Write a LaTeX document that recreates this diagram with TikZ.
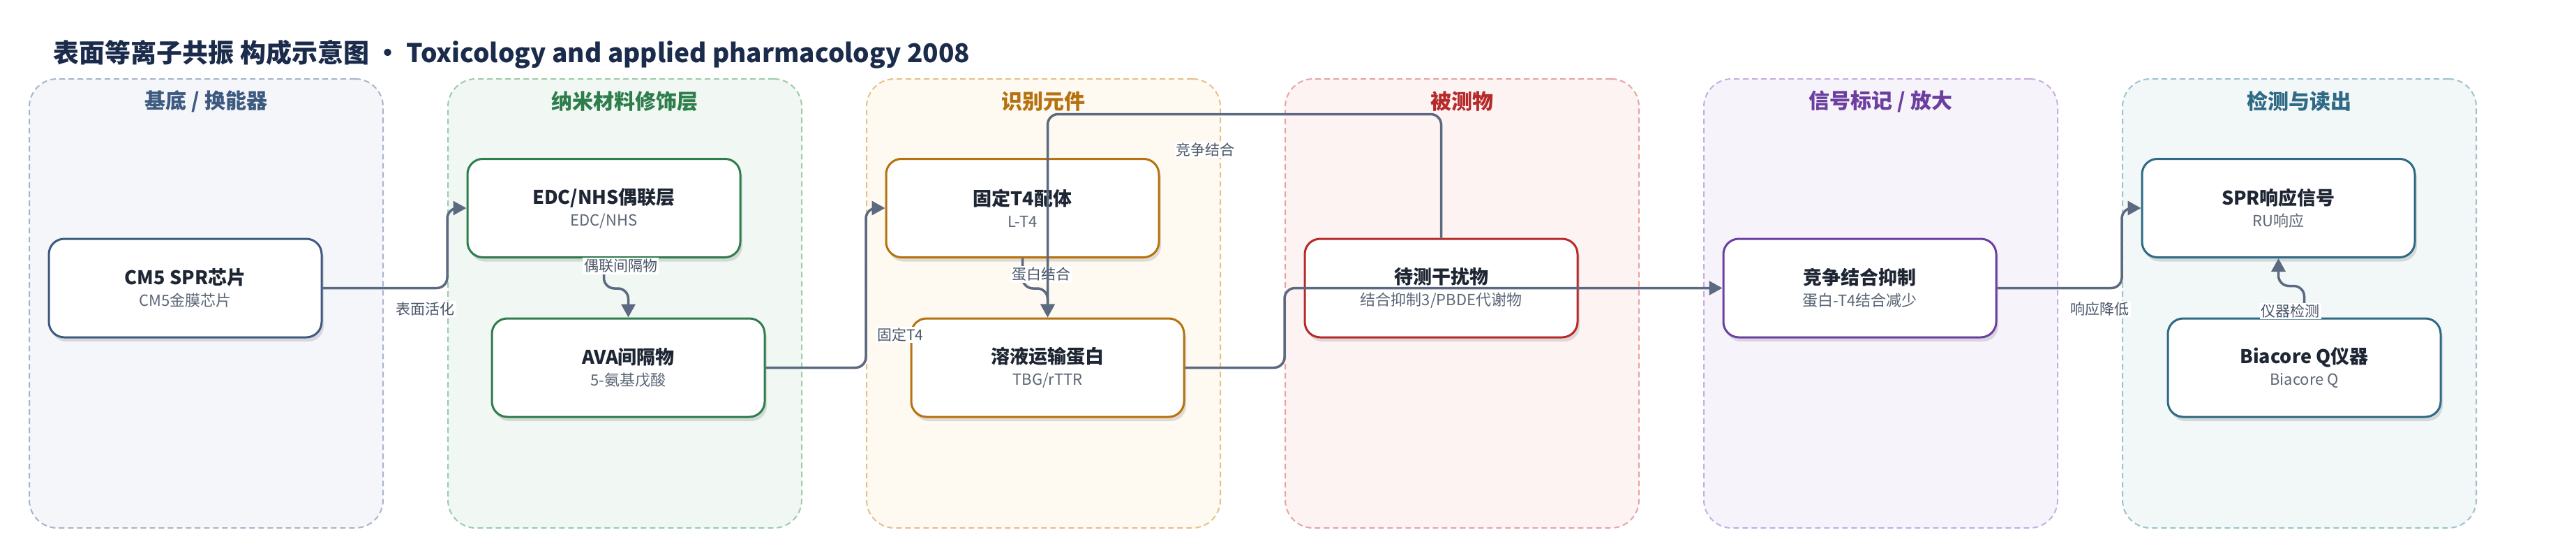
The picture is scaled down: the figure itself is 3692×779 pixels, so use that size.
\documentclass[tikz,border=0pt]{standalone}
\usepackage{fontspec}
\setmainfont{Noto Sans CJK SC}
\usepackage{tikz}
\usetikzlibrary{arrows.meta, calc, shadows}

\definecolor{titlec}{HTML}{1B2B4B}
\definecolor{edgec}{HTML}{5B6A80}
\definecolor{maintxt}{HTML}{1E2633}
\definecolor{subtxt}{HTML}{5B6676}
\definecolor{notetxt}{HTML}{4A5568}
\definecolor{lnA}{HTML}{A8B5C9}\definecolor{bgA}{HTML}{F4F6FA}\definecolor{cA}{HTML}{3E5A80}
\definecolor{lnB}{HTML}{9CCBAA}\definecolor{bgB}{HTML}{F1F8F3}\definecolor{cB}{HTML}{2E7D4C}
\definecolor{lnC}{HTML}{E5C089}\definecolor{bgC}{HTML}{FEF9F1}\definecolor{cC}{HTML}{B5720E}
\definecolor{lnD}{HTML}{E8A3A3}\definecolor{bgD}{HTML}{FDF3F3}\definecolor{cD}{HTML}{B72A2A}
\definecolor{lnE}{HTML}{C6AEE0}\definecolor{bgE}{HTML}{F7F3FB}\definecolor{cE}{HTML}{6B3FA0}
\definecolor{lnF}{HTML}{9FC2CD}\definecolor{bgF}{HTML}{F2F7F8}\definecolor{cF}{HTML}{2E6A85}

\newcommand{\boxtxt}[2]{{\fontsize{27}{31}\selectfont\bfseries #1}\\{\fontsize{22}{31}\selectfont\color{subtxt}#2}}

\begin{document}
\begin{tikzpicture}[x=1pt, y=-1pt,
  lane/.style 2 args={draw=#1, fill=#2, dash pattern=on 8pt off 5pt, line width=2pt,
    rounded corners=40pt, minimum width=507pt, minimum height=643pt},
  lanehead/.style={font=\fontsize{30}{30}\selectfont\bfseries, text=#1},
  stage/.style={draw=#1, fill=white, line width=3pt, rounded corners=22pt,
    minimum width=391pt, minimum height=141pt, align=center, text=maintxt,
    font=\fontsize{27}{31}\selectfont,
    drop shadow={shadow xshift=3pt, shadow yshift=-6pt, opacity=.12, fill=black}},
  flow/.style={draw=edgec, line width=3.5pt, rounded corners=15pt,
    -{Triangle[length=19pt,width=20pt]}},
  note/.style={fill=white, text=notetxt, font=\fontsize{21}{21}\selectfont, inner sep=2pt}
  ]
  \useasboundingbox (0,0) rectangle (3692,779);

  \node[anchor=west, text=titlec, font=\fontsize{37}{37}\selectfont\bfseries] (ttl) at (73,78)
    {表面等离子共振 构成示意图 · Toxicology and applied pharmacology 2008};

  \node[lane={lnA}{bgA}] (laneA) at (295.5,434.5) {};
  \node[lane={lnB}{bgB}] (laneB) at (895.5,434.5) {};
  \node[lane={lnC}{bgC}] (laneC) at (1495.5,434.5) {};
  \node[lane={lnD}{bgD}] (laneD) at (2095.5,434.5) {};
  \node[lane={lnE}{bgE}] (laneE) at (2695.5,434.5) {};
  \node[lane={lnF}{bgF}] (laneF) at (3295.5,434.5) {};

  \node[lanehead=cA] (hA) at ([shift={(0,33)}]laneA.north) {基底 / 换能器};
  \node[lanehead=cB] (hB) at ([shift={(0,33)}]laneB.north) {纳米材料修饰层};
  \node[lanehead=cC] (hC) at ([shift={(0,33)}]laneC.north) {识别元件};
  \node[lanehead=cD] (hD) at ([shift={(0,33)}]laneD.north) {被测物};
  \node[lanehead=cE] (hE) at ([shift={(0,33)}]laneE.north) {信号标记 / 放大};
  \node[lanehead=cF] (hF) at ([shift={(0,33)}]laneF.north) {检测与读出};

  \node[stage=cA] (cm5) at (265.5,412.5) {\boxtxt{CM5 SPR芯片}{CM5金膜芯片}};
  \node[stage=cB] (edc) at (865.5,298) {\boxtxt{EDC/NHS偶联层}{EDC/NHS}};
  \node[stage=cB] (ava) at (900.5,526.5) {\boxtxt{AVA间隔物}{5-氨基戊酸}};
  \node[stage=cC] (fixT4) at (1465.5,298) {\boxtxt{固定T4配体}{L-T4}};
  \node[stage=cC] (prot) at (1501.5,526.5) {\boxtxt{溶液运输蛋白}{TBG/rTTR}};
  \node[stage=cD] (interf) at (2065.5,412.5) {\boxtxt{待测干扰物}{结合抑制3/PBDE代谢物}};
  \node[stage=cE] (comp) at (2665.5,412.5) {\boxtxt{竞争结合抑制}{蛋白-T4结合减少}};
  \node[stage=cF] (spr) at (3265.5,298) {\boxtxt{SPR响应信号}{RU响应}};
  \node[stage=cF] (biac) at (3302.5,526.5) {\boxtxt{Biacore Q仪器}{Biacore Q}};

  \draw[flow] (cm5.east) -| (laneB.west |- edc.west) -- (edc.west);
  \node[note] (lact) at ([shift={(147,30)}]cm5.east) {表面活化};

  \draw[flow] (edc.south) -- ++(0,43) -| (ava.north);
  \node[note] (lcpl) at ([shift={(24,11)}]edc.south) {偶联间隔物};

  \draw[flow] (ava.east) -| (laneC.west |- fixT4.west) -- (fixT4.west);
  \node[note] (lfix) at ([shift={(193,-47)}]ava.east) {固定T4};

  \draw[flow] (fixT4.south) -- ++(0,43) -| (prot.north);
  \node[note] (lbind) at ([shift={(27,23)}]fixT4.south) {蛋白结合};

  \draw[flow] (interf.north) -- ++(0,-177) -| (prot.north);
  \node[note] (lcomp) at ([shift={(-338,-126)}]interf.north) {竞争结合};

  \draw[flow] (prot.east) -| (laneD.west |- comp.west) -- (comp.west);

  \draw[flow] (comp.east) -| (laneF.west |- spr.west) -- (spr.west);
  \node[note] (ldrop) at ([shift={(147,30)}]comp.east) {响应降低};

  \draw[flow] (biac.north) -- ++(0,-45) -| (spr.south);
  \node[note] (ldet) at ([shift={(-20,-9)}]biac.north) {仪器检测};
\end{tikzpicture}
\end{document}
